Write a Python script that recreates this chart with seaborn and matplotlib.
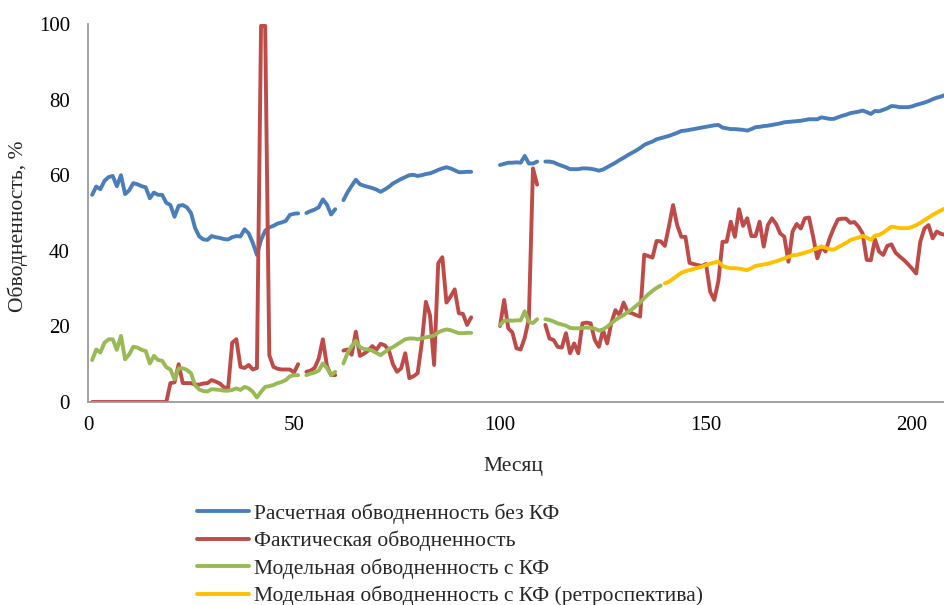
import numpy as np
import pandas as pd
import matplotlib.pyplot as plt
from matplotlib.lines import Line2D
import seaborn as sns

nan = np.nan

months = np.arange(1, 209)
green_months = np.arange(1, 140)
yellow_months = np.arange(140, 209)

blue_vals = [
    54.8, 57.0, 56.3, 58.5, 59.5, 59.8, 57.1, 60.0, 55.0, 56.0,
    57.9, 57.6, 57.1, 56.8, 53.9, 55.4, 54.8, 54.8, 52.7, 52.1,
    49.0, 51.9, 52.1, 51.5, 50.0, 46.0, 43.8, 43.0, 42.9, 43.9,
    43.6, 43.4, 43.1, 43.0, 43.6, 43.9, 43.8, 45.7, 44.6, 42.1,
    38.9, 42.9, 45.3, 46.2, 46.6, 47.2, 47.5, 47.9, 49.5, 49.8,
    49.9, nan, 50.0, 50.5, 50.9, 51.5, 53.6, 52.2, 49.6, 51.0,
    nan, 53.4, 55.5, 57.2, 58.8, 57.6, 57.2, 56.9, 56.6, 56.2,
    55.6, 56.2, 56.9, 57.8, 58.4, 59.0, 59.5, 60.0, 60.1, 59.8,
    60.0, 60.3, 60.5, 60.9, 61.4, 61.8, 62.1, 61.8, 61.3, 60.8,
    60.8, 60.9, 60.9, nan, nan, nan, nan, nan, nan, 62.7,
    63.0, 63.3, 63.3, 63.4, 63.3, 65.1, 63.1, 63.1, 63.6, nan,
    63.6, 63.6, 63.4, 62.9, 62.5, 62.1, 61.6, 61.6, 61.6, 61.8,
    61.8, 61.7, 61.5, 61.2, 61.5, 62.1, 62.7, 63.3, 64.0, 64.6,
    65.3, 65.9, 66.5, 67.2, 68.0, 68.5, 68.9, 69.5, 69.8, 70.1,
    70.4, 70.8, 71.2, 71.7, 71.8, 72.0, 72.2, 72.4, 72.6, 72.8,
    73.0, 73.2, 73.3, 72.6, 72.4, 72.2, 72.2, 72.1, 72.0, 71.8,
    72.2, 72.7, 72.8, 73.0, 73.1, 73.3, 73.5, 73.7, 74.0, 74.1,
    74.2, 74.3, 74.4, 74.6, 74.8, 74.8, 74.8, 75.3, 75.1, 74.9,
    74.9, 75.3, 75.7, 76.0, 76.4, 76.6, 76.8, 77.1, 76.7, 76.2,
    77.0, 76.9, 77.3, 77.7, 78.3, 78.2, 78.0, 78.0, 78.0, 78.2,
    78.6, 78.9, 79.2, 79.6, 80.1, 80.5, 80.8, 81.2,
]

red_vals = [
    0, 0, 0, 0, 0, 0, 0, 0, 0, 0,
    0, 0, 0, 0, 0, 0, 0, 0, 0, 5.0,
    5.2, 10.0, 5.0, 5.0, 5.0, 4.6, 4.6, 4.9, 5.0, 5.8,
    5.4, 4.9, 3.9, 3.6, 15.7, 16.6, 9.3, 9.0, 9.8, 8.6,
    9.0, 99.5, 99.5, 12.4, 9.3, 8.8, 8.6, 8.6, 8.6, 7.8,
    10.0, nan, 8.0, 8.3, 9.0, 11.5, 16.6, 9.5, 7.1, 7.1,
    nan, 13.6, 13.9, 12.5, 18.6, 12.2, 12.8, 13.6, 14.8, 13.8,
    15.4, 15.0, 13.8, 10.0, 8.0, 8.9, 12.9, 6.3, 6.8, 7.6,
    15.5, 26.5, 23.0, 9.8, 36.7, 38.3, 26.3, 27.9, 29.8, 23.5,
    23.3, 20.4, 22.4, nan, nan, nan, nan, nan, nan, 20.1,
    27.0, 19.5, 18.4, 14.2, 13.9, 17.0, 22.0, 61.8, 57.5, nan,
    20.4, 16.8, 16.4, 14.6, 14.4, 18.2, 12.9, 15.5, 12.9, 20.8,
    21.0, 20.8, 16.4, 14.6, 19.0, 15.5, 20.8, 24.3, 23.0, 26.3,
    23.8, 23.5, 23.0, 22.6, 39.0, 38.6, 38.2, 42.6, 42.5, 41.3,
    46.5, 52.1, 46.8, 43.7, 43.7, 36.8, 36.5, 36.2, 36.0, 36.5,
    29.2, 27.0, 32.0, 42.4, 42.4, 47.7, 43.7, 51.0, 46.6, 48.6,
    43.9, 43.9, 47.7, 41.1, 46.8, 48.6, 47.1, 44.6, 43.7, 37.1,
    45.1, 47.1, 45.9, 48.6, 48.8, 43.7, 38.0, 41.1, 39.8, 43.3,
    46.0, 48.3, 48.5, 48.5, 47.4, 47.6, 46.4, 44.6, 37.6, 37.5,
    43.0, 39.8, 38.9, 41.3, 41.7, 39.5, 38.5, 37.6, 36.5, 35.3,
    34.0, 42.4, 45.9, 46.8, 43.3, 45.1, 44.5, 44.2,
]

green_vals = [
    11.1, 13.9, 13.1, 15.7, 16.6, 16.6, 13.8, 17.5, 11.3, 12.6,
    14.6, 14.4, 13.8, 13.5, 10.2, 12.2, 11.1, 10.9, 9.2, 8.6,
    6.0, 8.9, 8.9, 8.5, 7.6, 4.4, 3.3, 2.9, 2.8, 3.4,
    3.3, 3.2, 3.0, 3.0, 3.2, 3.6, 3.2, 4.0, 3.6, 2.7,
    1.2, 2.7, 4.0, 4.2, 4.5, 5.0, 5.3, 5.8, 6.8, 7.1,
    7.1, nan, 7.1, 7.5, 7.8, 8.3, 10.2, 9.0, 7.1, 8.0,
    nan, 10.2, 13.0, 14.8, 16.2, 14.5, 14.0, 13.9, 13.6, 13.0,
    12.4, 13.2, 14.0, 14.5, 15.2, 15.9, 16.6, 16.8, 16.8, 16.6,
    16.8, 17.1, 17.3, 17.6, 18.4, 18.9, 19.2, 19.0, 18.6, 18.2,
    18.2, 18.3, 18.3, nan, nan, nan, nan, nan, nan, 20.4,
    21.5, 21.6, 21.5, 21.6, 21.6, 24.0, 21.2, 20.9, 21.9, nan,
    21.9, 21.7, 21.3, 20.8, 20.5, 20.2, 19.6, 19.5, 19.5, 19.6,
    19.7, 19.6, 19.4, 18.9, 19.2, 19.9, 20.8, 21.7, 22.4, 23.0,
    23.8, 24.5, 25.4, 26.3, 27.5, 28.5, 29.4, 30.2, 30.8,
]

yellow_vals = [
    31.4, 31.8, 32.6, 33.4, 34.2, 34.6, 34.9, 35.2, 35.5, 35.8,
    36.2, 36.6, 36.9, 37.1, 36.0, 35.6, 35.4, 35.4, 35.3, 35.1,
    34.9, 35.4, 36.0, 36.2, 36.4, 36.6, 36.9, 37.2, 37.6, 38.0,
    38.4, 38.8, 38.9, 39.2, 39.5, 39.8, 40.3, 40.7, 41.1, 40.8,
    40.4, 40.3, 40.9, 41.5, 42.1, 42.8, 43.2, 43.5, 43.9, 43.5,
    42.9, 44.0, 44.2, 44.8, 45.6, 46.4, 46.2, 46.0, 46.0, 46.0,
    46.3, 46.8, 47.4, 48.1, 48.8, 49.5, 50.1, 50.7, 51.2,
]

labels = [
    "Расчетная обводненность без КФ",
    "Фактическая обводненность",
    "Модельная обводненность с КФ",
    "Модельная обводненность с КФ (ретроспектива)",
]
colors = ["#4A7EBB", "#BE4B48", "#98B954", "#FFC000"]

# long table; NaN gaps split each series into separate segments
frames = []
for lab, x, y in zip(labels, [months, months, green_months, yellow_months],
                     [blue_vals, red_vals, green_vals, yellow_vals]):
    d = pd.DataFrame({"month": x, "value": y, "series": lab})
    d["seg"] = d["value"].isna().cumsum()
    frames.append(d.dropna())
df = pd.concat(frames, ignore_index=True)

sns.set_style("white")
plt.rcParams["font.family"] = ["Liberation Serif", "DejaVu Serif"]

fig = plt.figure(figsize=(9.45, 6.05), dpi=100)
ax = fig.add_axes([88 / 945, 1 - 402 / 605, 857 / 945, 378 / 605])

sns.lineplot(data=df, x="month", y="value", hue="series", units="seg",
             estimator=None, hue_order=labels, palette=colors,
             linewidth=2.8, legend=False, ax=ax)

ax.set_xlim(0, 208)
ax.set_ylim(0, 100)
ax.set_xticks([0, 50, 100, 150, 200])
ax.set_yticks([0, 20, 40, 60, 80, 100])
ax.tick_params(length=0, labelsize=15, colors="#000000")
ax.tick_params(axis="y", pad=13)
ax.tick_params(axis="x", pad=10)
for s in ["top", "right"]:
    ax.spines[s].set_visible(False)
for s in ["left", "bottom"]:
    ax.spines[s].set_color("#9A9A9A")
    ax.spines[s].set_linewidth(1.3)

ax.set_xlabel("Месяц", fontsize=15.5)
ax.set_ylabel("Обводненность, %", fontsize=15.5)
ax.xaxis.set_label_coords(0.497, -0.145)
ax.yaxis.set_label_coords(-0.07, 0.465)

handles = [Line2D([], [], color=c, lw=2.8) for c in colors]
fig.legend(handles, labels, loc="upper left", bbox_to_anchor=(197 / 945, 1 - 503 / 605),
           frameon=False, fontsize=15.5, handlelength=2.4, handletextpad=0.25,
           labelspacing=0.33, borderpad=0, borderaxespad=0)

fig.savefig("out.png", dpi=100)
